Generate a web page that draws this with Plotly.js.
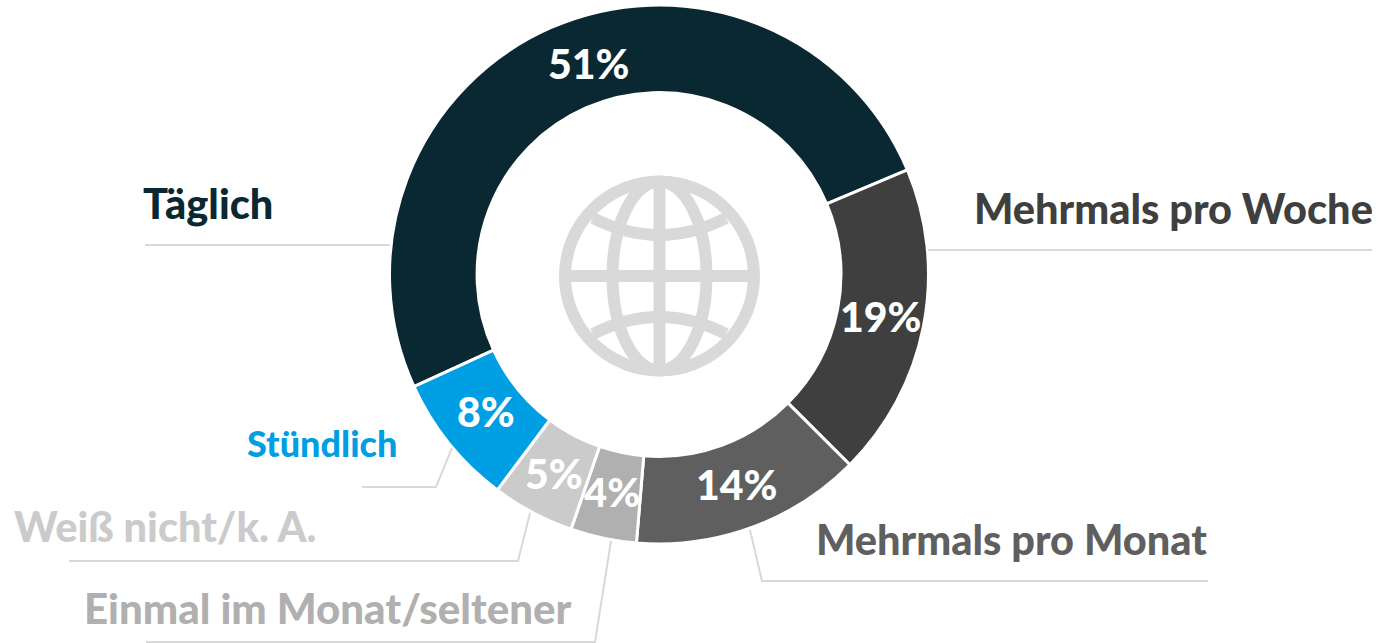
<!DOCTYPE html>
<html><head><meta charset="utf-8">
<script src="https://cdn.plot.ly/plotly-3.0.1.min.js"></script>
<style>html,body{margin:0;padding:0;background:#fff}#c{width:1378px;height:643px}</style>
</head><body><div id="c"></div>
<script>
const categories = ["Täglich","Mehrmals pro Woche","Mehrmals pro Monat","Einmal im Monat/seltener","Weiß nicht/k. A.","Stündlich"];
const shares = [51,19,14,4,5,8];
const colors = ["#0a2831","#3f3f3f","#5f5f5f","#b0b0b0","#cbcbcb","#009fe3"];
const catX = [207.5,1173,1011,328,165,321.5];
const catY = [203,208,539,608,526,443];
const catSize = [41.5,41.5,41.5,42,41.5,36];
const pctX = [588,880,736,612,554,486];
const pctY = [64,316.5,484.5,492,473,411];
const pctSize = [41,41,41,40,41,41];
const leaders = [
  [[145,245],[390,245]],
  [[928,250],[1372,250]],
  [[750,530],[762,581],[1208,581]],
  [[611,541],[595,642],[146,642]],
  [[530,513],[518,561],[69,561]],
  [[452,448],[436,487],[362,487]]
];
const W=1378,H=643,cx=659,cy=274.5,R=269.5;
const fx=x=>x/W, fy=y=>1-y/H;
const font='Lato, "Open Sans", sans-serif';
const trace={type:'pie',labels:categories,values:shares,sort:false,direction:'clockwise',rotation:245.4,hole:0.675,
  marker:{colors:colors,line:{color:'#fff',width:3}},textinfo:'none',hoverinfo:'label+percent',showlegend:false,
  domain:{x:[fx(cx-R),fx(cx+R)],y:[fy(cy+R),fy(cy-R)]}};
const annotations=[];
categories.forEach((c,i)=>{
  annotations.push({xref:'paper',yref:'paper',x:fx(catX[i]),y:fy(catY[i]),xanchor:'center',yanchor:'middle',showarrow:false,
    text:c,font:{family:font,size:catSize[i],color:colors[i],weight:900}});
  annotations.push({xref:'paper',yref:'paper',x:fx(pctX[i]),y:fy(pctY[i]),xanchor:'center',yanchor:'middle',showarrow:false,
    text:shares[i]+'%',font:{family:font,size:pctSize[i],color:'#fff',weight:900}});
});
const shapes=leaders.map(p=>({type:'path',xref:'paper',yref:'paper',
  path:p.map((q,i)=>(i?'L':'M')+fx(q[0])+','+fy(q[1])).join(' '),line:{color:'#d9d9d9',width:2},fillcolor:'rgba(0,0,0,0)'}));
const g='#d9d9d9',gw=12,gx=659.5,gy=276,gr=94.5,grx=47;
const line={color:g,width:gw};
const ell=(rx,ry)=>({type:'circle',xref:'paper',yref:'paper',x0:fx(gx-rx),x1:fx(gx+rx),y0:fy(gy+ry),y1:fy(gy-ry),line:line,fillcolor:'rgba(0,0,0,0)'});
const seg=(d)=>({type:'path',xref:'paper',yref:'paper',path:d,line:line,fillcolor:'rgba(0,0,0,0)'});
const pt=(x,y)=>fx(x)+','+fy(y);
shapes.push(ell(gr,gr),ell(grx,gr),
  seg('M'+pt(gx,gy-gr)+' L'+pt(gx,gy+gr)),
  seg('M'+pt(gx-gr,gy)+' L'+pt(gx+gr,gy)),
  seg('M'+pt(593,218)+' Q'+pt(gx,252)+' '+pt(726,218)),
  seg('M'+pt(593,334)+' Q'+pt(gx,300)+' '+pt(726,334)));
Plotly.newPlot('c',[trace],{width:W,height:H,margin:{l:0,r:0,t:0,b:0,pad:0},paper_bgcolor:'#fff',showlegend:false,annotations,shapes},{displayModeBar:false,staticPlot:true});
</script></body></html>
